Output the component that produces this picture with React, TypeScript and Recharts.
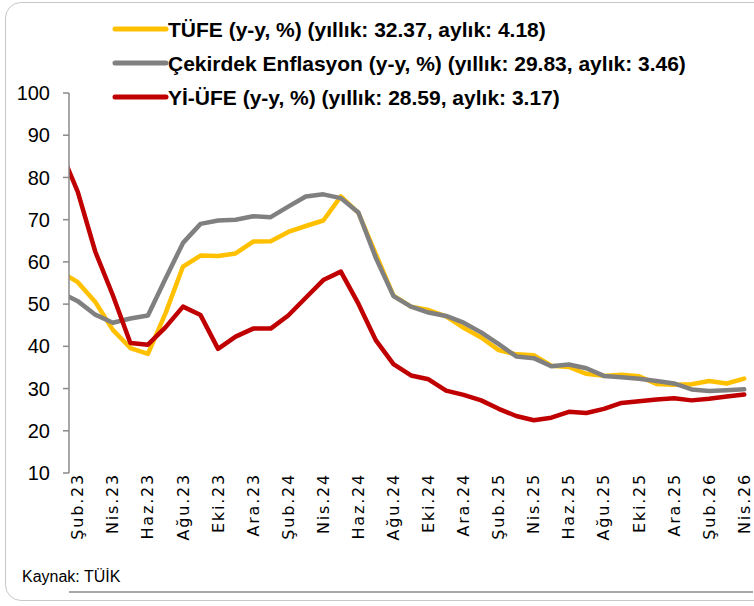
import { LineChart, Line, XAxis, YAxis, Legend } from "recharts";

// Oca.23 is only there so the lines run into the left edge (clipped), as in the source chart
const MONTHS = [
  "Oca.23", "Şub.23", "Mar.23", "Nis.23", "May.23", "Haz.23", "Tem.23", "Ağu.23", "Eyl.23", "Eki.23", "Kas.23", "Ara.23",
  "Oca.24", "Şub.24", "Mar.24", "Nis.24", "May.24", "Haz.24", "Tem.24", "Ağu.24", "Eyl.24", "Eki.24", "Kas.24", "Ara.24",
  "Oca.25", "Şub.25", "Mar.25", "Nis.25", "May.25", "Haz.25", "Tem.25", "Ağu.25", "Eyl.25", "Eki.25", "Kas.25", "Ara.25",
  "Oca.26", "Şub.26", "Mar.26", "Nis.26",
];

const TUFE = [
  57.7, 55.2, 50.5, 43.9, 39.6, 38.2, 47.8, 58.9, 61.5, 61.4, 62.0, 64.8,
  64.9, 67.1, 68.5, 69.8, 75.5, 71.6, 61.8, 52.0, 49.4, 48.6, 47.1, 44.4,
  42.1, 39.1, 38.1, 37.9, 35.4, 35.1, 33.5, 33.0, 33.3, 32.9, 31.1, 30.9,
  31.0, 31.8, 31.2, 32.37,
];

const CEKIRDEK = [
  52.8, 50.7, 47.5, 45.6, 46.6, 47.3, 56.0, 64.5, 69.0, 69.8, 70.0, 70.8,
  70.6, 73.1, 75.5, 76.0, 75.1, 71.7, 60.9, 51.9, 49.4, 48.0, 47.2, 45.6,
  43.3, 40.5, 37.6, 37.2, 35.3, 35.7, 34.8, 33.0, 32.7, 32.3, 31.8, 31.2,
  29.8, 29.4, 29.6, 29.83,
];

const YIUFE = [
  86.5, 76.6, 62.4, 52.1, 40.8, 40.4, 44.5, 49.4, 47.4, 39.4, 42.3, 44.2,
  44.2, 47.3, 51.5, 55.7, 57.7, 50.1, 41.4, 35.8, 33.1, 32.2, 29.5, 28.5,
  27.2, 25.2, 23.5, 22.5, 23.1, 24.5, 24.2, 25.2, 26.6, 27.0, 27.4, 27.7,
  27.2, 27.6, 28.1, 28.59,
];

const Y_TICKS = [10, 20, 30, 40, 50, 60, 70, 80, 90, 100];

const SERIES = [
  { key: "tufe", name: "TÜFE (y-y, %) (yıllık: 32.37, aylık: 4.18)", color: "#FFC000" },
  { key: "cekirdek", name: "Çekirdek Enflasyon (y-y, %) (yıllık: 29.83, aylık: 3.46)", color: "#808080" },
  { key: "yiufe", name: "Yİ-ÜFE (y-y, %) (yıllık: 28.59, aylık: 3.17)", color: "#C00000" },
];

const AXIS_COLOR = "#8A8A8A";

const data = MONTHS.map((m, k) => ({
  idx: k - 1,
  month: m,
  tufe: TUFE[k],
  cekirdek: CEKIRDEK[k],
  yiufe: YIUFE[k],
}));

const labelTicks = data.filter((d) => d.idx >= 0 && d.idx % 2 === 0).map((d) => d.idx);
const markTicks = labelTicks.map((v) => v - 0.5);
const lastIdx = data[data.length - 1].idx;

const MonthTick = ({ x, y, payload }: any) => (
  <text
    x={x}
    y={y}
    transform={`rotate(-90 ${x} ${y})`}
    textAnchor="end"
    dominantBaseline="central"
    fontFamily="DejaVu Sans"
    fontSize={16}
    letterSpacing={1.8}
    fill="#000"
  >
    {MONTHS[payload.value + 1]}
  </text>
);

// keep the series order of the source legend (recharts sorts the payload by name)
const renderLegend = (props: any) => {
  const payload = props.payload || [];
  return (
    <svg width={754} height={115}>
      {SERIES.map((s, i) => {
        const entry = payload.find((p: any) => p.dataKey === s.key);
        const color = entry ? entry.color : s.color;
        const y = 29 + i * 34;
        return (
          <g key={s.key}>
            <line x1={115} x2={166} y1={y} y2={y} stroke={color} strokeWidth={5} strokeLinecap="round" />
            <text
              x={168}
              y={y}
              dominantBaseline="central"
              fontFamily="Liberation Sans, Arial, sans-serif"
              fontWeight="bold"
              fontSize={21}
              fill="#000"
            >
              {entry ? entry.value : s.name}
            </text>
          </g>
        );
      })}
    </svg>
  );
};

export default function App() {
  return (
    <div style={{ position: "fixed", left: 0, top: 0, width: 754, height: 606, background: "#fff", overflow: "hidden" }}>
      <div
        style={{
          position: "absolute",
          left: 5,
          top: 2,
          width: 770,
          height: 597,
          border: "1.5px solid #C8C8C8",
          borderRadius: 16,
        }}
      />
      <LineChart width={754} height={606} data={data} margin={{ top: 93, right: 1, bottom: 0, left: 0 }}>
        <XAxis
          xAxisId="marks"
          type="number"
          dataKey="idx"
          domain={[-0.5, lastIdx + 0.5]}
          allowDataOverflow
          ticks={markTicks}
          interval={0}
          tick={false}
          tickSize={7}
          height={14}
          axisLine={{ stroke: AXIS_COLOR, strokeWidth: 1.5 }}
          tickLine={{ stroke: AXIS_COLOR, strokeWidth: 1.5 }}
        />
        <XAxis
          xAxisId="labels"
          type="number"
          dataKey="idx"
          domain={[-0.5, lastIdx + 0.5]}
          allowDataOverflow
          ticks={labelTicks}
          interval={0}
          tick={<MonthTick />}
          tickSize={0}
          tickMargin={0}
          height={119}
          axisLine={false}
          tickLine={false}
        />
        <YAxis
          type="number"
          domain={[10, 100]}
          ticks={Y_TICKS}
          interval={0}
          width={69}
          tickSize={6}
          tickMargin={13}
          axisLine={{ stroke: AXIS_COLOR, strokeWidth: 1.5 }}
          tickLine={{ stroke: AXIS_COLOR, strokeWidth: 1.5 }}
          tick={{ fill: "#000", fontSize: 20, fontFamily: "Liberation Sans, Arial, sans-serif" }}
        />
        <Legend
          layout="horizontal"
          verticalAlign="middle"
          align="center"
          content={renderLegend}
          wrapperStyle={{ left: 0, top: 0, width: 754, height: 115 }}
        />
        {SERIES.map((s) => (
          <Line
            key={s.key}
            xAxisId="marks"
            type="linear"
            dataKey={s.key}
            name={s.name}
            stroke={s.color}
            strokeWidth={4.5}
            strokeLinecap="round"
            strokeLinejoin="round"
            dot={false}
            activeDot={false}
            isAnimationActive={false}
          />
        ))}
      </LineChart>
      <div
        style={{
          position: "absolute",
          left: 22,
          top: 568,
          fontFamily: "Liberation Sans, Arial, sans-serif",
          fontSize: 16,
          color: "#000",
        }}
      >
        Kaynak: TÜİK
      </div>
    </div>
  );
}
